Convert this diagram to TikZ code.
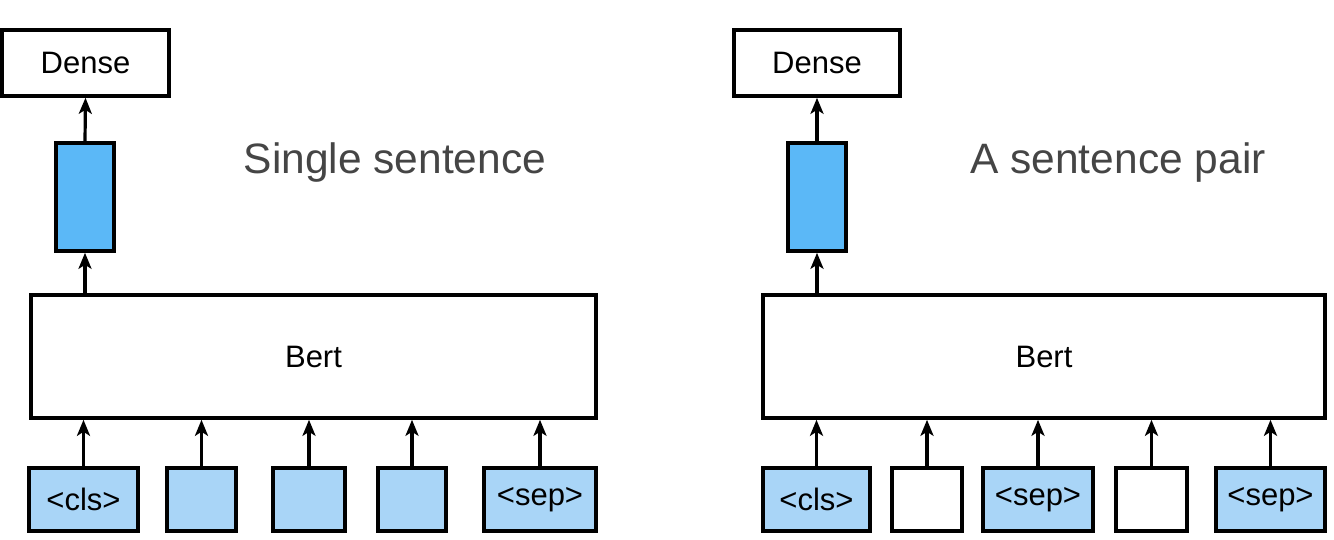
\documentclass[tikz,border=0pt]{standalone}
\usepackage{fontspec}
\setmainfont{Liberation Sans}
\usetikzlibrary{arrows.meta}
\definecolor{midblue}{HTML}{5BB8F7}
\definecolor{lightblue}{HTML}{A9D5F7}
\definecolor{titlegray}{HTML}{454545}
\begin{document}
\begin{tikzpicture}[x=1pt,y=-1pt,
  box/.style={draw=black,line width=3.6pt,rectangle,inner sep=0pt,font=\fontsize{31}{36}\selectfont},
  tok/.style={box,fill=lightblue},
  emptytok/.style={box,fill=white},
  vec/.style={box,fill=midblue},
  conn/.style={line width=3.2pt,-{Stealth[length=16pt,width=13pt,inset=4pt]}},
  title/.style={text=titlegray,font=\fontsize{42.5}{48}\selectfont}]
\useasboundingbox (0,0) rectangle (1334,540);
%%%%% Left panel
\node[box,minimum width=167pt,minimum height=66pt] (d1) at (85.5,63) {Dense};
\node[vec,minimum width=58pt,minimum height=108pt] (v1) at (85,197) {};
\node[box,minimum width=565pt,minimum height=123pt] (b1) at (313.5,356.5) {Bert};
\node[tok,minimum width=109pt,minimum height=63pt] (l1) at (83.5,499.5) {\raisebox{-2pt}{<cls>}};
\node[tok,minimum width=69pt,minimum height=63pt] (l2) at (201.5,499.5) {};
\node[tok,minimum width=72pt,minimum height=63pt] (l3) at (309,499.5) {};
\node[tok,minimum width=68pt,minimum height=63pt] (l4) at (412,499.5) {};
\node[tok,minimum width=112pt,minimum height=63pt] (l5) at (540,499.5) {<sep>};
\node[title] (t1) at (395,163) {Single sentence};
\draw[conn] (v1.north) -- (d1.south);
\draw[conn] (b1.north -| v1) -- (v1.south);
\foreach \i in {1,...,5}{
  \draw[conn] (l\i.north) -- (l\i.north |- b1.south);
}
%%%%% Right panel
\node[box,minimum width=166pt,minimum height=66pt] (d2) at (817,63) {Dense};
\node[vec,minimum width=58pt,minimum height=108pt] (v2) at (817,197) {};
\node[box,minimum width=562pt,minimum height=123pt] (b2) at (1044,356.5) {Bert};
\node[tok,minimum width=107pt,minimum height=63pt] (r1) at (816.5,499.5) {\raisebox{-2pt}{<cls>}};
\node[emptytok,minimum width=70pt,minimum height=63pt] (r2) at (927,499.5) {};
\node[tok,minimum width=110pt,minimum height=63pt] (r3) at (1038,499.5) {<sep>};
\node[emptytok,minimum width=71pt,minimum height=63pt] (r4) at (1151.5,499.5) {};
\node[tok,minimum width=109pt,minimum height=63pt] (r5) at (1270.5,499.5) {<sep>};
\node[title] (t2) at (1118,163) {A sentence pair};
\draw[conn] (v2.north) -- (d2.south);
\draw[conn] (b2.north -| v2) -- (v2.south);
\foreach \i in {1,...,5}{
  \draw[conn] (r\i.north) -- (r\i.north |- b2.south);
}
\end{tikzpicture}
\end{document}
